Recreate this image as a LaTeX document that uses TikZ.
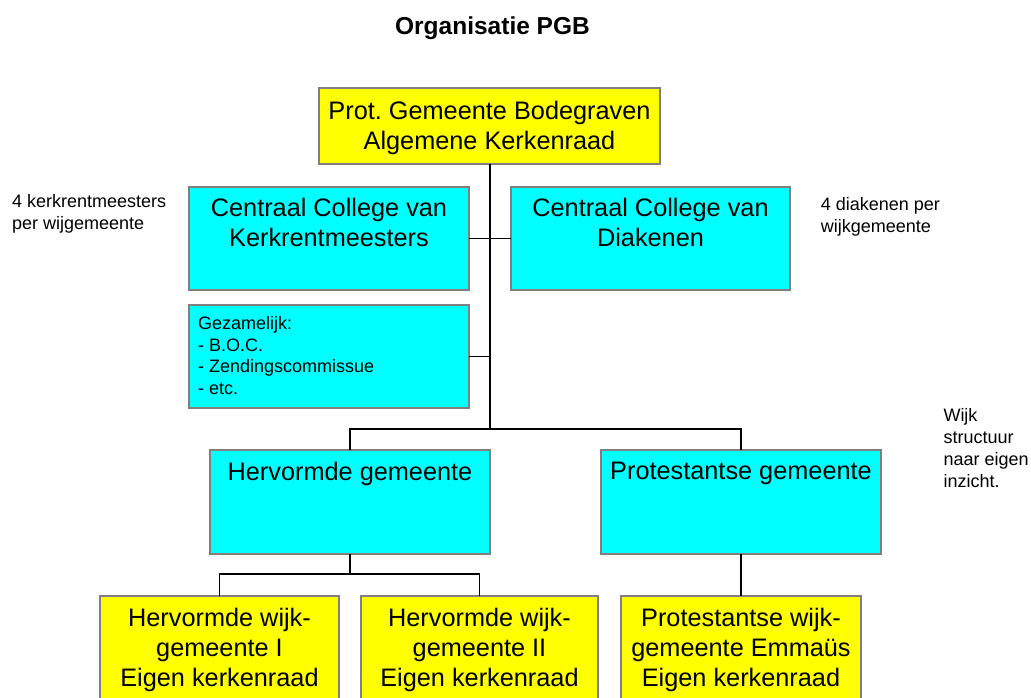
\documentclass[tikz,border=0pt]{standalone}
\usepackage{fontspec}
\setmainfont{Liberation Sans}
\definecolor{boxgray}{HTML}{808080}
\definecolor{boxcyan}{HTML}{00FFFF}
\definecolor{boxyellow}{HTML}{FFFF00}
\frenchspacing
\begin{document}
\frenchspacing
\begin{tikzpicture}[x=1pt,y=-1pt,
  box/.style={draw=boxgray, line width=1.6pt, inner sep=0pt, outer sep=0pt, anchor=north west},
  ybox/.style={box, fill=boxyellow},
  cbox/.style={box, fill=boxcyan},
  big/.style={font=\fontsize{25.3}{30.2}\selectfont, align=center, inner sep=0pt, anchor=north},
  small/.style={font=\fontsize{18}{22}\selectfont, align=left, inner sep=0pt, anchor=north west},
  conn/.style={line width=1.6pt, black}
]
\clip (0,0) rectangle (1031,697);

% title
\node[font=\bfseries\fontsize{24.5}{29}\selectfont, anchor=base, inner sep=0pt] (title) at (492.5,34) {Organisatie PGB};

% boxes
\node[ybox, minimum width=341pt, minimum height=76pt] (pgb) at (319,88) {};
\node[cbox, minimum width=280pt, minimum height=103pt] (cck) at (189,187) {};
\node[cbox, minimum width=279pt, minimum height=103pt] (ccd) at (511,187) {};
\node[cbox, minimum width=280pt, minimum height=103pt] (gez) at (189,305) {};
\node[cbox, minimum width=280pt, minimum height=104pt] (herv) at (210,450) {};
\node[cbox, minimum width=280pt, minimum height=104pt] (prot) at (601,450) {};
\node[ybox, minimum width=239pt, minimum height=120pt] (hw1) at (100,596) {};
\node[ybox, minimum width=237pt, minimum height=120pt] (hw2) at (361,596) {};
\node[ybox, minimum width=240pt, minimum height=120pt] (pw) at (621,596) {};

% connectors
\coordinate (bus) at (490,429);
\coordinate (bus2) at (350,574);
\draw[conn] (pgb.south -| bus) -- (bus);
\draw[conn] (herv.north) |- (bus) -| (prot.north);
\draw[conn] (cck.east) -- (ccd.west);
\draw[conn] (gez.east) -- (gez.east -| bus);
\draw[conn] (herv.south) -- (herv.south |- bus2);
\draw[conn] (hw1.north) |- (bus2) -| (hw2.north);
\draw[conn] (prot.south) -- (pw.north);

% box texts
\node[big] (pgbT) at (489.5,100.8) {Prot. Gemeente Bodegraven\\Algemene Kerkenraad};
\node[big] (cckT) at (329,198.2) {Centraal College van\\Kerkrentmeesters};
\node[big] (ccdT) at (650.5,198.2) {Centraal College van\\Diakenen};
\node[small, font=\fontsize{18}{21.7}\selectfont] (gezT) at (198,316.2) {Gezamelijk:\\- B.O.C.\\- Zendingscommissue\\- etc.};
\node[big] (hervT) at (350,461.5) {Hervormde gemeente};
\node[big] (protT) at (741,461.5) {Protestantse gemeente};
\node[big] (hw1T) at (219.5,607.5) {Hervormde wijk-\\gemeente I\\Eigen kerkenraad};
\node[big] (hw2T) at (479.5,607.5) {Hervormde wijk-\\gemeente II\\Eigen kerkenraad};
\node[big] (pwT) at (741,607.5) {Protestantse wijk-\\gemeente Emmaüs\\Eigen kerkenraad};

% side notes
\node[small] (sideL) at (12,194.4) {4 kerkrentmeesters\\per wijgemeente};
\node[small] (sideR) at (820.7,197.6) {4 diakenen per\\wijkgemeente};
\node[small] (sideW) at (943.3,408.6) {Wijk\\structuur\\naar eigen\\inzicht.};
\end{tikzpicture}
\end{document}
